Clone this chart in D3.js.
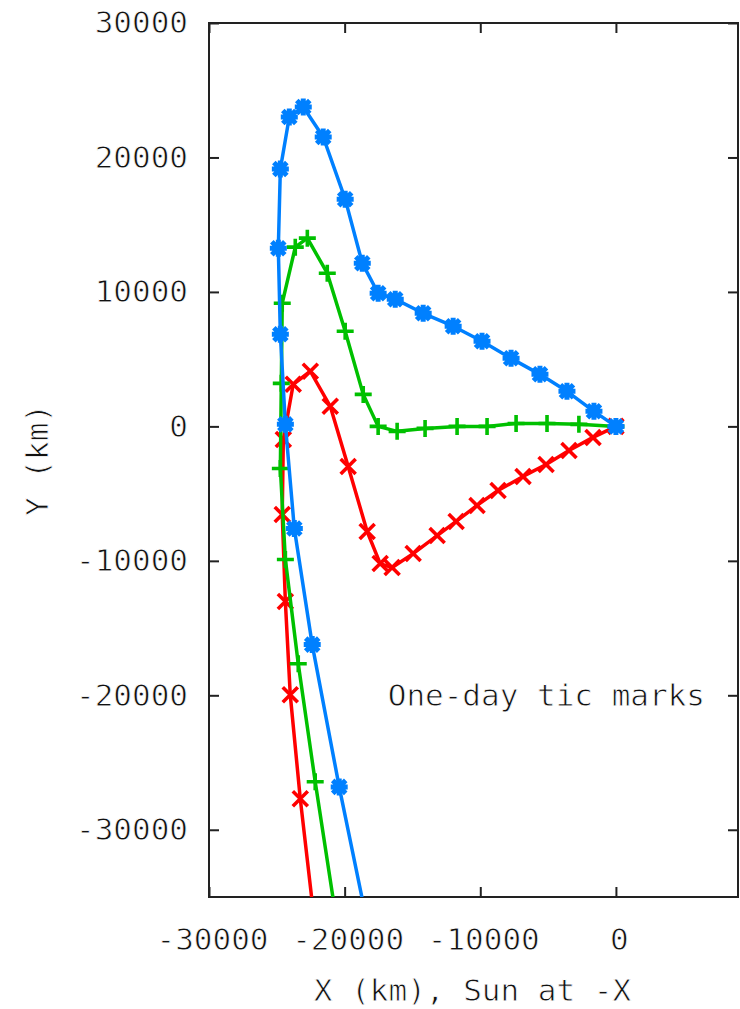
<!DOCTYPE html>
<html>
<head>
<meta charset="utf-8">
<script src="https://cdn.jsdelivr.net/npm/d3@7"></script>
<style>
  html, body { margin: 0; padding: 0; background: #fff; }
  svg { display: block; }
  text { font-family: "DejaVu Sans Mono", monospace; font-size: 31px; fill: #111; stroke: #fff; stroke-width: 0.8px; }
</style>
</head>
<body>
<svg id="chart" width="740" height="1009"></svg>
<script>
// ---- data (km), one point per day ----
const redX   = [0, -1690, -3460, -5150, -6850, -8690, -10240, -11780, -13180, -14950, -16500, -17380, -18340, -19740, -21060, -22530, -23790, -24520, -24600, -24370, -24010, -23270, -22310];
const redY   = [0, -820, -1790, -2830, -3720, -4770, -5880, -7070, -8120, -9460, -10500, -10200, -7820, -2980, 1490, 4100, 3130, -970, -6550, -13030, -19960, -27700, -36110];
const greenX = [0, -2730, -5080, -7360, -9500, -11710, -14070, -16130, -17530, -18630, -19960, -21280, -22750, -23640, -24600, -24670, -24740, -24370, -23420, -22170, -20700];
const greenY = [0, 150, 220, 220, 0, 0, -150, -370, 0, 2380, 7070, 11390, 14000, 13330, 9160, 3200, -3130, -9900, -17650, -26430, -36100];
const blueX  = [0, -1620, -3610, -5600, -7730, -9870, -12000, -14210, -16270, -17530, -18700, -19960, -21580, -23050, -24080, -24740, -24890, -24740, -24370, -23710, -22390, -20400, -18200];
const blueY  = [0, 1120, 2610, 3870, 5060, 6330, 7450, 8410, 9460, 9900, 12140, 16900, 21520, 23750, 23010, 19140, 13250, 6850, 150, -7600, -16230, -26810, -37600];

const xTicks = [-30000, -20000, -10000, 0];
const yTicks = [30000, 20000, 10000, 0, -10000, -20000, -30000];
const xDomain = [-30000, 9000];
const yDomain = [-35000, 30000];

const xTitle = "X (km), Sun at -X";
const yTitle = "Y (km)";
const note = "One-day tic marks";

// ---- layout ----
const L = 209, R = 738, T = 23, B = 897;
const svg = d3.select("#chart");
const x = d3.scaleLinear().domain(xDomain).range([L, R]);
const y = d3.scaleLinear().domain(yDomain).range([B, T]);

svg.append("defs").append("clipPath").attr("id", "plotclip")
  .append("rect").attr("x", L).attr("y", T).attr("width", R - L).attr("height", B - T);

const fmt = d => d3.format("d")(d).replace("\u2212", "-");

// axes with inward ticks
const tick = 10;
const gB = svg.append("g").attr("transform", `translate(0,${B})`)
  .call(d3.axisBottom(x).tickValues(xTicks).tickSize(-tick).tickSizeOuter(0).tickPadding(31).tickFormat(fmt));
const gT = svg.append("g").attr("transform", `translate(0,${T})`)
  .call(d3.axisTop(x).tickValues(xTicks).tickSize(-tick).tickSizeOuter(0).tickFormat(""));
const gL = svg.append("g").attr("transform", `translate(${L},0)`)
  .call(d3.axisLeft(y).tickValues(yTicks).tickSize(-tick).tickSizeOuter(0).tickPadding(21).tickFormat(fmt));
const gR = svg.append("g").attr("transform", `translate(${R},0)`)
  .call(d3.axisRight(y).tickValues(yTicks).tickSize(-tick).tickSizeOuter(0).tickFormat(""));

[gB, gT, gL, gR].forEach(g => {
  g.select(".domain").remove();
  g.selectAll(".tick line").attr("stroke", "#222").attr("stroke-width", 2);
  g.selectAll("text").attr("font-family", "DejaVu Sans Mono, monospace").attr("font-size", 31)
    .attr("fill", "#111").attr("stroke", "#fff").attr("stroke-width", 0.8);
});
gB.selectAll(".tick text").attr("dx", 3);

// border
svg.append("rect").attr("x", L).attr("y", T).attr("width", R - L).attr("height", B - T)
  .attr("fill", "none").attr("stroke", "#222").attr("stroke-width", 2);

// series
const series = [
  { xs: redX, ys: redY, color: "#ff0000", sym: "x" },
  { xs: greenX, ys: greenY, color: "#00c000", sym: "+" },
  { xs: blueX, ys: blueY, color: "#0080ff", sym: "*" }
];

const plot = svg.append("g").attr("clip-path", "url(#plotclip)");
const line = d3.line().x(d => x(d[0])).y(d => y(d[1]));

function symPath(sym) {
  const a = 8.5, b = 7.5, c = 6.5;
  if (sym === "+") return `M${-a},0H${a}M0,${-a}V${a}`;
  if (sym === "x") return `M${-b},${-b}L${b},${b}M${-b},${b}L${b},${-b}`;
  return `M${-a},0H${a}M0,${-a}V${a}M${-c},${-c}L${c},${c}M${-c},${c}L${c},${-c}`;
}

series.forEach(s => {
  const pts = s.xs.map((v, i) => [v, s.ys[i]]);
  const g = plot.append("g");
  g.append("path").datum(pts).attr("d", line)
    .attr("fill", "none").attr("stroke", s.color).attr("stroke-width", 3.5).attr("stroke-linejoin", "round");
  g.selectAll("path.m").data(pts).enter().append("path").attr("class", "m")
    .attr("transform", d => `translate(${x(d[0])},${y(d[1])})`)
    .attr("d", symPath(s.sym))
    .attr("fill", "none").attr("stroke", s.color).attr("stroke-width", s.sym === "*" ? 5 : 3.6);
});

// titles
svg.append("text").attr("x", (L + R) / 2 - 1).attr("y", 1001).attr("text-anchor", "middle").text(xTitle);
svg.append("text").attr("transform", "translate(48,460) rotate(-90)").attr("text-anchor", "middle").text(yTitle);
svg.append("text").attr("x", 705).attr("y", 706).attr("text-anchor", "end").text(note);
</script>
</body>
</html>
